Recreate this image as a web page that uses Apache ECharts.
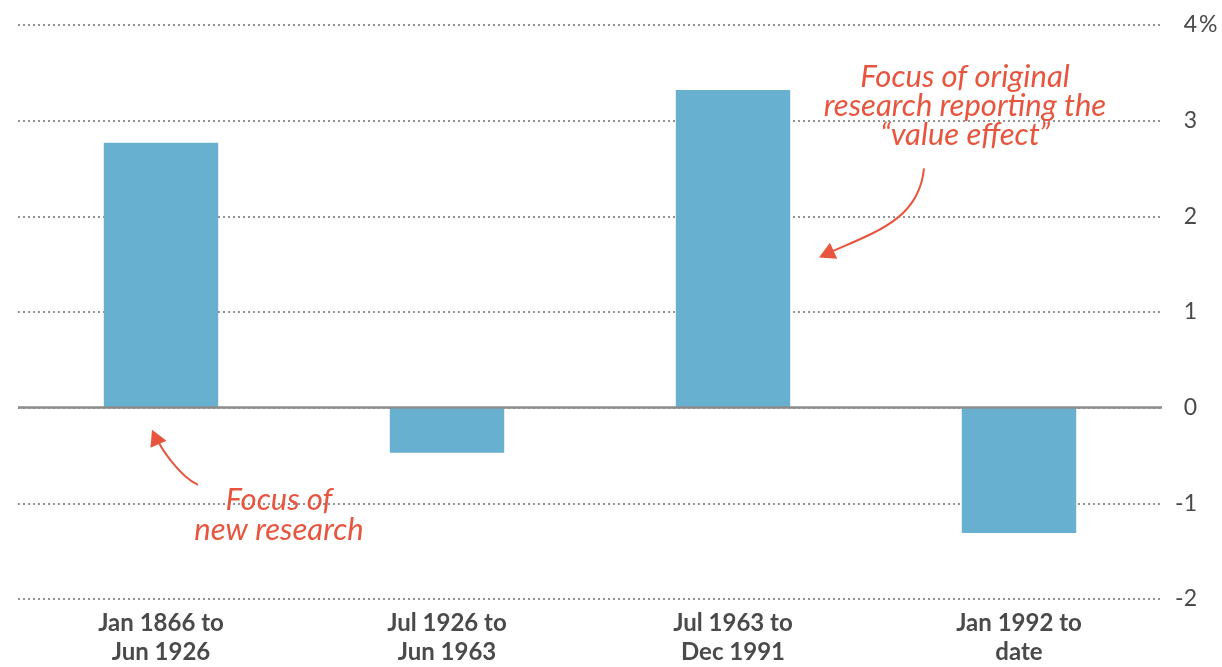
<!DOCTYPE html>
<html>
<head>
<meta charset="utf-8">
<script src="https://cdn.jsdelivr.net/npm/echarts@6/dist/echarts.min.js"></script>
<style>
  html, body { margin: 0; padding: 0; background: #fff; }
  #chart { width: 1222px; height: 667px; }
</style>
</head>
<body>
<div id="chart"></div>
<script>
// Periods of the value premium study
const categories = [
  'Jan 1866 to\nJun 1926',
  'Jul 1926 to\nJun 1963',
  'Jul 1963 to\nDec 1991',
  'Jan 1992 to\ndate'
];
// Average annual value premium, %
const premium = [2.77, -0.47, 3.32, -1.31];
// Y-axis range and step
const yMin = -2;
const yMax = 4;
const yStep = 1;

const annotationOriginal = 'Focus of original\nresearch reporting the\n\u201cvalue effect\u201d';
const annotationNew = 'Focus of\nnew research';

const RED = '#e8553e';
const TEXT = '#4a4a4a';
const FONT = 'Lato, "Open Sans", sans-serif';

const chart = echarts.init(document.getElementById('chart'), null, { renderer: 'canvas' });

chart.setOption({
  animation: false,
  backgroundColor: '#ffffff',
  grid: { left: 18, right: 60, top: 25, bottom: 68, containLabel: false },
  xAxis: {
    type: 'category',
    data: categories,
    axisLine: { show: false },
    axisTick: { show: false },
    axisLabel: {
      color: TEXT,
      fontFamily: FONT,
      fontWeight: 700,
      fontSize: 24,
      lineHeight: 29,
      margin: 10,
      interval: 0
    }
  },
  yAxis: {
    type: 'value',
    position: 'right',
    min: yMin,
    max: yMax,
    interval: yStep,
    axisLine: { show: false },
    axisTick: { show: false },
    axisLabel: {
      color: TEXT,
      fontFamily: FONT,
      fontSize: 23,
      align: 'right',
      margin: 35
    },
    splitLine: {
      lineStyle: { color: '#6f6f6f', type: [2, 3], width: 1.5 }
    }
  },
  series: [{
    type: 'bar',
    data: premium,
    barWidth: '40%',
    itemStyle: { color: '#67b0cf' },
    markLine: {
      silent: true,
      symbol: 'none',
      label: { show: false },
      lineStyle: { color: '#8c8c8c', type: 'solid', width: 2.5 },
      data: [{ yAxis: 0 }]
    }
  }]
});

// Annotations placed relative to the bars they describe
function px(ci, v) { return chart.convertToPixel({ xAxisIndex: 0, yAxisIndex: 0 }, [ci, v]); }

const p4 = px(0, yMax);
const bar3Top = px(2, premium[2]);
const bar1Base = px(0, 0);

const origX = bar3Top[0] + 232;
const origY = px(0, 3.15)[1];
const newX = bar1Base[0] + 118;
const newY = px(0, -1.12)[1];

function arrowHead(tip, from, size) {
  const dx = tip[0] - from[0], dy = tip[1] - from[1];
  const len = Math.hypot(dx, dy);
  const ux = dx / len, uy = dy / len;
  const bx = tip[0] - ux * size, by = tip[1] - uy * size;
  const nx = -uy * size * 0.55, ny = ux * size * 0.55;
  return [tip, [bx + nx, by + ny], [bx - nx, by - ny]];
}

// arrow toward the third bar
const a1Start = [origX - 41, origY + 62];
const a1Tip = [bar3Top[0] + 86, px(0, 1.57)[1]];
const a1Cp1 = [a1Start[0] - 5, a1Start[1] + 52];
const a1Cp2 = [a1Tip[0] + 55, a1Tip[1] - 25];

// arrow toward the first bar
const a2Start = [bar1Base[0] + 37, newY - 30];
const a2Tip = [bar1Base[0] - 9, bar1Base[1] + 22];
const a2Cp1 = [a2Start[0] - 18, a2Start[1] - 8];
const a2Cp2 = [a2Tip[0] + 8, a2Tip[1] + 18];

chart.setOption({
  graphic: [
    {
      type: 'text', x: 1199, y: p4[1], z: 10,
      style: { text: '%', fill: TEXT, font: '23px ' + FONT, textAlign: 'left', textVerticalAlign: 'middle' }
    },
    {
      type: 'text', x: origX, y: origY, z: 10,
      style: {
        text: annotationOriginal, fill: RED,
        font: 'italic 31px ' + FONT, textAlign: 'center', textVerticalAlign: 'middle',
        lineHeight: 29
      }
    },
    {
      type: 'text', x: newX, y: newY, z: 10,
      style: {
        text: annotationNew, fill: RED,
        font: 'italic 31px ' + FONT, textAlign: 'center', textVerticalAlign: 'middle',
        lineHeight: 30
      }
    },
    {
      type: 'bezierCurve', z: 10,
      shape: { x1: a1Start[0], y1: a1Start[1], x2: a1Tip[0] + 6, y2: a1Tip[1] - 3,
               cpx1: a1Cp1[0], cpy1: a1Cp1[1], cpx2: a1Cp2[0], cpy2: a1Cp2[1] },
      style: { stroke: RED, lineWidth: 2, fill: null }
    },
    {
      type: 'polygon', z: 10,
      shape: { points: arrowHead(a1Tip, a1Cp2, 16) },
      style: { fill: RED }
    },
    {
      type: 'bezierCurve', z: 10,
      shape: { x1: a2Start[0], y1: a2Start[1], x2: a2Tip[0] + 3, y2: a2Tip[1] + 5,
               cpx1: a2Cp1[0], cpy1: a2Cp1[1], cpx2: a2Cp2[0], cpy2: a2Cp2[1] },
      style: { stroke: RED, lineWidth: 2, fill: null }
    },
    {
      type: 'polygon', z: 10,
      shape: { points: arrowHead(a2Tip, a2Cp2, 16) },
      style: { fill: RED }
    }
  ]
});
</script>
</body>
</html>
